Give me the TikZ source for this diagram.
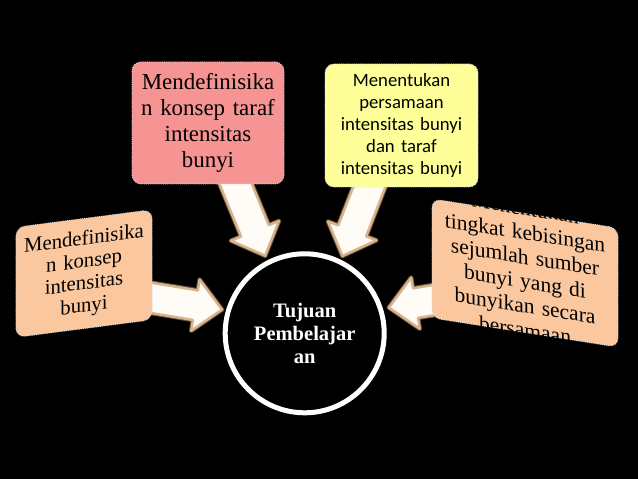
\documentclass[tikz,border=0pt]{standalone}
\usepackage{fontspec}
\setmainfont{Liberation Serif}
\newfontfamily\calibfont{Carlito}
\usetikzlibrary{calc}
\definecolor{pinkbox}{RGB}{245,148,146}
\definecolor{yellowbox}{RGB}{255,255,153}
\definecolor{peachbox}{RGB}{251,199,158}
\definecolor{arrowfill}{RGB}{255,251,246}
\definecolor{arrowbevel}{RGB}{214,180,142}
\definecolor{arrowline}{RGB}{105,78,52}
\pgfdeclarelayer{back}
\pgfsetlayers{back,main}
\newcommand{\drawblockarrow}[2]{%
  \path ($(#2)!27bp!(#1)$) coordinate (bah);
  \draw[arrowline, line width=4.5bp, line join=round]
    ($(#1)!15bp!90:(#2)$) -- ($(bah)!15bp!90:(#2)$) -- ($(bah)!26bp!90:(#2)$) -- (#2)
    -- ($(bah)!26bp!-90:(#2)$) -- ($(bah)!15bp!-90:(#2)$) -- ($(#1)!15bp!-90:(#2)$) -- cycle;
  \filldraw[fill=arrowfill, draw=arrowbevel, line width=2.5bp, line join=round]
    ($(#1)!15bp!90:(#2)$) -- ($(bah)!15bp!90:(#2)$) -- ($(bah)!26bp!90:(#2)$) -- (#2)
    -- ($(bah)!26bp!-90:(#2)$) -- ($(bah)!15bp!-90:(#2)$) -- ($(#1)!15bp!-90:(#2)$) -- cycle;
}
\begin{document}
\begin{tikzpicture}[x=1bp,y=-1bp,
  box/.style={rounded corners=9bp, draw=white!85!black, densely dotted, line width=0.9bp,
    align=center, inner sep=0pt}]
\begin{pgfonlayer}{back}
\fill[black] (0,0) rectangle (638,479);
\end{pgfonlayer}
\useasboundingbox (0,0) rectangle (638,479);

\node[box, fill=pinkbox, minimum width=152bp, minimum height=122bp, text width=146bp,
  font=\fontsize{23}{26}\selectfont] (pb) at (208,123)
  {Mendefinisika\\n konsep taraf\\intensitas\\bunyi};

\node[box, fill=yellowbox, minimum width=153bp, minimum height=123bp, text width=146bp,
  font=\calibfont\fontsize{18.8}{22}\selectfont] (yb) at (401.5,125.5)
  {Menentukan\\persamaan\\intensitas bunyi\\dan taraf\\intensitas bunyi};

\node[box, fill=peachbox, yslant=0.129, minimum width=136bp, minimum height=110bp, text width=132bp,
  font=\fontsize{20.8}{22.5}\selectfont] (lb) at (84,273.5)
  {Mendefinisika\\n konsep\\intensitas\\bunyi};

\node[box, fill=peachbox, yslant=-0.157, minimum width=186bp, minimum height=119bp] (rb) at (525,273) {};
\node[yslant=-0.157, align=center, text width=182bp, inner sep=0pt,
  font=\fontsize{21.6}{24.5}\selectfont] (rt) at ($(rb.center)+(0,-4)$)
  {Menentukan\\tingkat kebisingan\\sejumlah sumber\\bunyi yang di\\bunyikan secara\\bersamaan};

\node[circle, draw=white, line width=5bp, fill=black, minimum size=159bp, inner sep=0pt,
  text=white, align=center, font=\bfseries\fontsize{20.6}{23}\selectfont] (goal) at (304.7,333.3)
  {Tujuan\\Pembelajar\\an};

\coordinate (la) at (140,296);
\coordinate (tla) at (232,175);
\coordinate (tra) at (374,175);
\coordinate (ra) at (452,297);
\coordinate (tipL) at ($(goal.164)!-4bp!(goal.center)$);
\coordinate (tipTL) at ($(goal.117)!-5bp!(goal.center)$);
\coordinate (tipTR) at ($(goal.64)!-4bp!(goal.center)$);
\coordinate (tipR) at ($(goal.17)!-6bp!(goal.center)$);

\begin{pgfonlayer}{back}
\drawblockarrow{la}{tipL}
\drawblockarrow{tla}{tipTL}
\drawblockarrow{tra}{tipTR}
\drawblockarrow{ra}{tipR}
\end{pgfonlayer}
\end{tikzpicture}
\end{document}
